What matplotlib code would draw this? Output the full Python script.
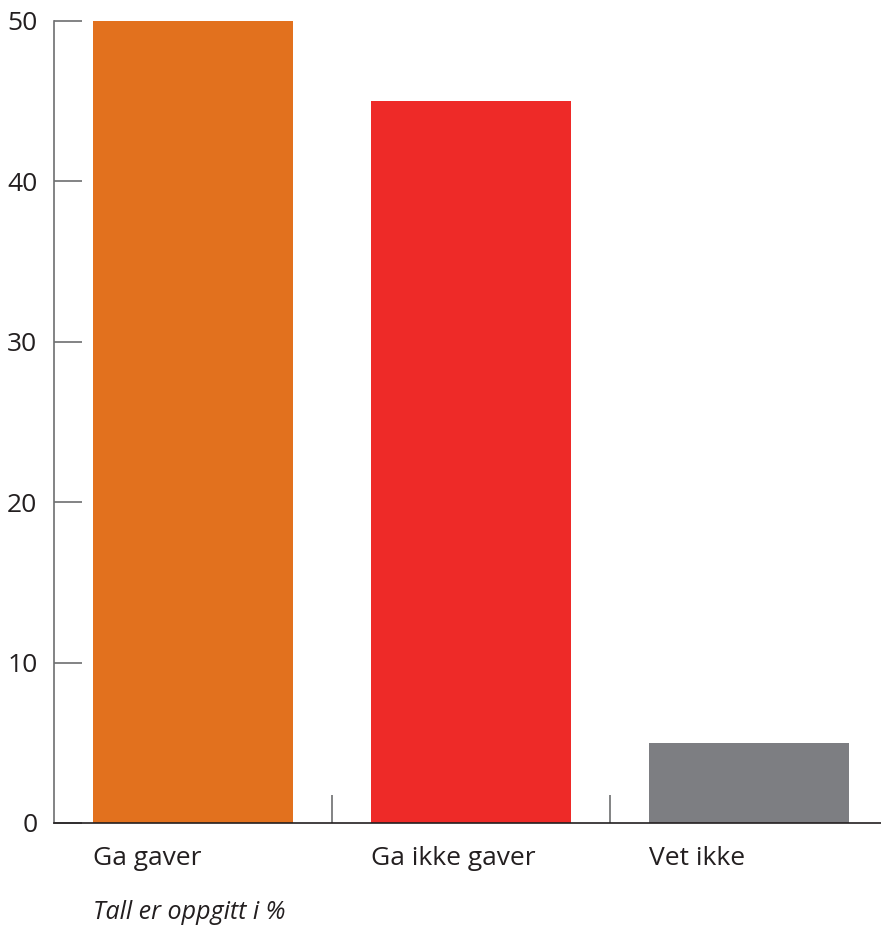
import matplotlib
matplotlib.use("Agg")
from matplotlib import pyplot as plt
import numpy as np

plt.rcParams['font.family'] = ['Open Sans', 'DejaVu Sans']

# data
categories = ['Ga gaver', 'Ga ikke gaver', 'Vet ikke']
values = [50, 45, 5]
colors = ['#E2711E', '#EE2A28', '#7D7E82']
y_ticks = [0, 10, 20, 30, 40, 50]
note = 'Tall er oppgitt i %'

W, H = 881, 925
fig = plt.figure(figsize=(W / 100, H / 100), dpi=100)
ax = fig.add_axes([54 / W, (H - 823) / H, (W - 54) / W, 802 / H])

x = np.arange(len(categories))
ax.bar(x, values, width=0.72, color=colors, zorder=2)

ax.set_xlim(-0.5, -0.5 + (W - 54) / 278)
ax.set_ylim(0, 50)

for s in ['top', 'right']:
    ax.spines[s].set_visible(False)
ax.spines['left'].set_color('#6d6e70')
ax.spines['left'].set_linewidth(1.2)
ax.spines['bottom'].set_color('#231f20')
ax.spines['bottom'].set_linewidth(1.2)

ax.set_yticks(y_ticks)
ax.set_yticklabels([str(t) for t in y_ticks], fontsize=19, color='#231f20')
ax.tick_params(axis='y', direction='in', length=20, width=1.2, color='#6d6e70', pad=12)

# separators between categories
ax.set_xticks(x[:-1] + 0.5)
ax.set_xticklabels([])
ax.tick_params(axis='x', direction='in', length=20, width=1.2, color='#6d6e70')

for i, c in enumerate(categories):
    ax.text(i - 0.36, -2.2, c, fontsize=19, color='#231f20', ha='left', va='center')

ax.text(-0.36, -5.6, note, fontsize=18, style='italic', color='#231f20',
        ha='left', va='center')

fig.savefig('out.png', dpi=100)
